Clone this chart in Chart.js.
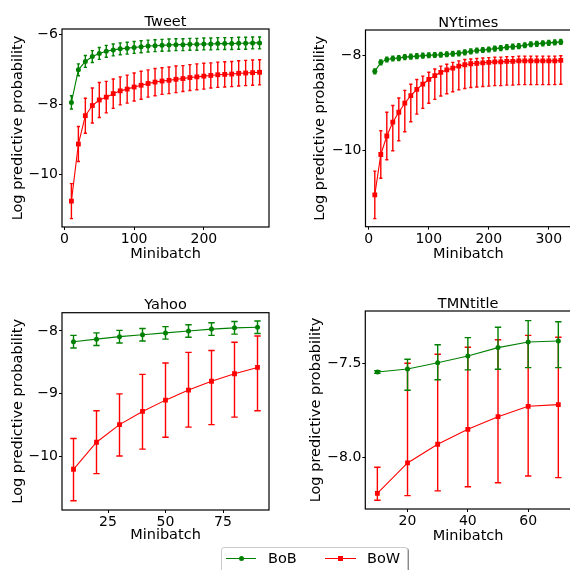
<!DOCTYPE html>
<html>
<head>
<meta charset="utf-8">
<script src="https://cdn.jsdelivr.net/npm/chart.js@4.4.1/dist/chart.umd.min.js"></script>
<style>
  html, body { margin: 0; padding: 0; background: #fff; overflow: hidden; }
  #page { position: relative; width: 570px; height: 570px; overflow: hidden; font-family: 'DejaVu Sans', sans-serif; }
  .panel { position: absolute; }
  .legend { position: absolute; left: 221px; top: 547px; width: 185px; height: 32px; border: 1px solid #cccccc;
            border-radius: 3px; box-shadow: 1px 1px 0 #8a8a8a; background: #fff; }
  .legend .ln { position: absolute; top: 10px; height: 1px; }
  .legend .mk { position: absolute; }
  .legend .tx { position: absolute; top: 2px; font-size: 14.5px; line-height: 17px; color: #000; }
</style>
</head>
<body>
<div id="page">
  <div class="panel" style="left:0;top:0"><canvas id="tweetChart" width="285" height="270"></canvas></div>
  <div class="panel" style="left:285px;top:0"><canvas id="nyChart" width="290" height="270"></canvas></div>
  <div class="panel" style="left:0;top:285px"><canvas id="yahooChart" width="285" height="270"></canvas></div>
  <div class="panel" style="left:285px;top:285px"><canvas id="tmnChart" width="290" height="270"></canvas></div>
  <div class="legend">
    <span class="ln" style="left:4px;width:30px;background:#008000"></span>
    <span class="mk" style="left:17px;top:8px;width:5px;height:5px;border-radius:50%;background:#008000"></span>
    <span class="tx" style="left:46px">BoB</span>
    <span class="ln" style="left:103px;width:31px;background:#ff0000"></span>
    <span class="mk" style="left:116px;top:8px;width:5px;height:5px;background:#ff0000"></span>
    <span class="tx" style="left:145px">BoW</span>
  </div>
</div>
<script>
// ---- Tweet ----
const tweetX = [10, 20, 30, 40, 50, 60, 70, 80, 90, 100, 110, 120, 130, 140, 150, 160, 170, 180, 190, 200,
    210, 220, 230, 240, 250, 260, 270, 280];
const tweetBob = [-7.94, -7.01, -6.77, -6.63, -6.54, -6.48, -6.44, -6.41, -6.39, -6.37, -6.35, -6.33, -6.32, -6.31,
    -6.30, -6.29, -6.29, -6.28, -6.28, -6.27, -6.27, -6.26, -6.26, -6.26, -6.25, -6.25, -6.24, -6.24];
const tweetBobErr = [0.19, 0.17, 0.17, 0.17, 0.17, 0.17, 0.17, 0.17, 0.17, 0.17, 0.17, 0.17, 0.17, 0.17,
    0.17, 0.17, 0.17, 0.17, 0.17, 0.17, 0.17, 0.17, 0.17, 0.17, 0.17, 0.17, 0.17, 0.17];
const tweetBow = [-10.76, -9.13, -8.32, -8.03, -7.87, -7.79, -7.69, -7.61, -7.56, -7.50, -7.45, -7.40, -7.36, -7.33,
    -7.31, -7.28, -7.26, -7.23, -7.21, -7.19, -7.17, -7.15, -7.14, -7.13, -7.11, -7.10, -7.09, -7.08];
const tweetBowErr = [0.5, 0.5, 0.5, 0.5, 0.5, 0.45, 0.42, 0.4, 0.4, 0.4, 0.4, 0.39, 0.39, 0.38,
    0.38, 0.38, 0.37, 0.37, 0.37, 0.37, 0.36, 0.36, 0.36, 0.36, 0.36, 0.36, 0.36, 0.36];
const tweetXTicks = [0, 100, 200];
const tweetYTicks = [-10, -8, -6];

// ---- NYtimes ----
const nyX = [10, 20, 30, 40, 50, 60, 70, 80, 90, 100, 110, 120, 130, 140, 150, 160, 170, 180, 190, 200,
    210, 220, 230, 240, 250, 260, 270, 280, 290, 300, 310, 320];
const nyBob = [-8.33, -8.14, -8.08, -8.06, -8.05, -8.03, -8.02, -8.01, -8.00, -7.99, -7.985, -7.98, -7.97, -7.96,
    -7.95, -7.93, -7.91, -7.89, -7.88, -7.87, -7.85, -7.84, -7.82, -7.81, -7.80, -7.78, -7.76, -7.75,
    -7.74, -7.73, -7.72, -7.71];
const nyBobErr = [0.05, 0.05, 0.05, 0.05, 0.05, 0.05, 0.05, 0.05, 0.05, 0.05, 0.05, 0.05, 0.05, 0.05, 0.05, 0.05,
    0.05, 0.05, 0.05, 0.05, 0.05, 0.05, 0.05, 0.05, 0.05, 0.05, 0.05, 0.05, 0.05, 0.05, 0.05, 0.05];
const nyBow = [-10.93, -10.08, -9.69, -9.40, -9.19, -9.00, -8.84, -8.71, -8.60, -8.50, -8.42, -8.35, -8.30, -8.26,
    -8.22, -8.19, -8.17, -8.16, -8.15, -8.14, -8.13, -8.13, -8.12, -8.12, -8.11, -8.11, -8.11, -8.11,
    -8.11, -8.11, -8.11, -8.10];
const nyBowUp = [0.5, 0.5, 0.5, 0.35, 0.3, 0.27, 0.24, 0.21, 0.17, 0.15, 0.14, 0.13, 0.12, 0.12, 0.11, 0.11,
    0.1, 0.1, 0.1, 0.1, 0.1, 0.1, 0.1, 0.1, 0.1, 0.1, 0.1, 0.1, 0.1, 0.1, 0.1, 0.1];
const nyBowDown = [0.5, 0.5, 0.5, 0.6, 0.6, 0.6, 0.55, 0.52, 0.51, 0.5, 0.5, 0.5, 0.5, 0.5, 0.5, 0.5,
    0.5, 0.5, 0.5, 0.5, 0.5, 0.5, 0.5, 0.5, 0.5, 0.5, 0.5, 0.5, 0.5, 0.5, 0.5, 0.5];
const nyXTicks = [0, 100, 200, 300];
const nyYTicks = [-10, -8];

// ---- Yahoo ----
const yahooX = [10, 20, 30, 40, 50, 60, 70, 80, 90];
const yahooBob = [-8.17, -8.13, -8.09, -8.06, -8.03, -8.00, -7.97, -7.95, -7.94];
const yahooBobErr = [0.1, 0.1, 0.1, 0.1, 0.1, 0.1, 0.1, 0.1, 0.1];
const yahooBow = [-10.20, -9.77, -9.49, -9.28, -9.10, -8.94, -8.80, -8.68, -8.58];
const yahooBowUp = [0.49, 0.5, 0.49, 0.59, 0.59, 0.6, 0.49, 0.5, 0.5];
const yahooBowDown = [0.5, 0.5, 0.5, 0.6, 0.59, 0.59, 0.69, 0.69, 0.69];
const yahooXTicks = [25, 50, 75];
const yahooYTicks = [-10, -9, -8];

// ---- TMNtitle ----
const tmnX = [10, 20, 30, 40, 50, 60, 70];
const tmnBob = [-7.546, -7.530, -7.497, -7.461, -7.417, -7.387, -7.382];
const tmnBobUp = [0.007, 0.051, 0.095, 0.097, 0.108, 0.113, 0.102];
const tmnBobDown = [0.007, 0.113, 0.09, 0.074, 0.115, 0.136, 0.141];
const tmnBow = [-8.189, -8.028, -7.929, -7.85, -7.783, -7.728, -7.719];
const tmnBowUp = [0.138, 0.528, 0.477, 0.435, 0.408, 0.376, 0.357];
const tmnBowDown = [0.037, 0.173, 0.247, 0.304, 0.35, 0.369, 0.387];
const tmnXTicks = [20, 40, 60];
const tmnYTicks = [-8.0, -7.5];

const GREEN = '#008000';
const RED = '#ff0000';
const FONT = "'DejaVu Sans', sans-serif";

Chart.defaults.font.family = FONT;
Chart.defaults.color = '#000';

// matplotlib style minus sign
function fmt(decimals) {
    return v => (v < 0 ? '\u2212' : '') + Math.abs(v).toFixed(decimals);
}

// vertical error bars with caps, drawn just before each line
const errorBars = {
    id: 'errorBars',
    beforeDatasetDraw(chart, args, opts) {
        const ds = chart.data.datasets[args.index];
        if (!ds.errUp) return;
        const { ctx, scales: { x, y } } = chart;
        const cap = opts.cap || 3;
        ctx.save();
        ctx.strokeStyle = ds.borderColor;
        ctx.lineWidth = 1.4;
        ds.data.forEach((p, i) => {
            const px = x.getPixelForValue(p.x);
            const hi = y.getPixelForValue(p.y + ds.errUp[i]);
            const lo = y.getPixelForValue(p.y - ds.errDown[i]);
            ctx.beginPath();
            ctx.moveTo(px, hi);
            ctx.lineTo(px, lo);
            ctx.moveTo(px - cap, hi);
            ctx.lineTo(px + cap, hi);
            ctx.moveTo(px - cap, lo);
            ctx.lineTo(px + cap, lo);
            ctx.stroke();
        });
        ctx.restore();
    }
};

// box around the axes (all four spines)
const frame = {
    id: 'frame',
    afterDatasetsDraw(chart) {
        const { ctx, chartArea: a } = chart;
        ctx.save();
        ctx.strokeStyle = '#000';
        ctx.lineWidth = 1.2;
        ctx.strokeRect(a.left, a.top, a.right - a.left, a.bottom - a.top);
        ctx.restore();
    }
};

function makePanel(id, c) {
    const pts = (xs, ys) => xs.map((v, i) => ({ x: v, y: ys[i] }));
    return new Chart(document.getElementById(id), {
        type: 'line',
        data: {
            datasets: [{
                label: 'BoB',
                data: pts(c.x, c.bob),
                errUp: c.bobUp,
                errDown: c.bobDown,
                borderColor: GREEN,
                backgroundColor: GREEN,
                borderWidth: 1.1,
                tension: 0,
                pointStyle: 'circle',
                pointRadius: 2.5,
                pointBorderWidth: 0,
                pointBackgroundColor: GREEN
            }, {
                label: 'BoW',
                data: pts(c.x, c.bow),
                errUp: c.bowUp,
                errDown: c.bowDown,
                borderColor: RED,
                backgroundColor: RED,
                borderWidth: 1.1,
                tension: 0,
                pointStyle: 'rect',
                pointRadius: 3.4,
                pointBorderWidth: 0,
                pointBackgroundColor: RED
            }]
        },
        options: {
            responsive: false,
            animation: false,
            events: [],
            layout: {
                autoPadding: false,
                padding: { top: c.padTop, right: c.padRight, bottom: 0, left: 0 }
            },
            plugins: {
                legend: { display: false },
                tooltip: { enabled: false },
                errorBars: { cap: c.cap },
                title: {
                    display: true,
                    text: c.title,
                    fullSize: false,
                    color: '#000',
                    font: { size: 14.5, weight: 'normal', lineHeight: 1 },
                    padding: 0
                }
            },
            scales: {
                x: {
                    type: 'linear',
                    min: c.xMin,
                    max: c.xMax,
                    afterBuildTicks: s => { s.ticks = c.xTicks.map(v => ({ value: v })); },
                    afterFit: s => { s.height = c.xAxisH; },
                    border: { display: false },
                    grid: { drawOnChartArea: false, drawTicks: true, tickLength: 3, color: '#000' },
                    ticks: { font: { size: 14 }, padding: 1, maxRotation: 0, autoSkip: false, callback: fmt(0) },
                    title: {
                        display: true,
                        text: 'Minibatch',
                        font: { size: 14.5 },
                        padding: { top: 0, bottom: c.xTitlePad }
                    }
                },
                y: {
                    type: 'linear',
                    min: c.yMin,
                    max: c.yMax,
                    afterBuildTicks: s => { s.ticks = c.yTicks.map(v => ({ value: v })); },
                    afterFit: s => { s.width = c.yAxisW; },
                    border: { display: false },
                    grid: { drawOnChartArea: false, drawTicks: true, tickLength: 3, color: '#000' },
                    ticks: { font: { size: 14 }, padding: 1, autoSkip: false, callback: fmt(c.yDecimals) },
                    title: {
                        display: true,
                        text: 'Log predictive probability',
                        font: { size: 14.5 },
                        padding: { top: c.yTitlePad, bottom: 0 }
                    }
                }
            }
        },
        plugins: [errorBars, frame]
    });
}

makePanel('tweetChart', {
    title: 'Tweet', x: tweetX,
    bob: tweetBob, bobUp: tweetBobErr, bobDown: tweetBobErr,
    bow: tweetBow, bowUp: tweetBowErr, bowDown: tweetBowErr,
    xTicks: tweetXTicks, yTicks: tweetYTicks, yDecimals: 0,
    xMin: -3.5, xMax: 293.5, yMin: -11.5, yMax: -5.843,
    padTop: 14.5, padRight: 16, yAxisW: 62, xAxisH: 43, yTitlePad: 9.6, xTitlePad: 6.8, cap: 1.6
});

makePanel('nyChart', {
    title: 'NYtimes', x: nyX,
    bob: nyBob, bobUp: nyBobErr, bobDown: nyBobErr,
    bow: nyBow, bowUp: nyBowUp, bowDown: nyBowDown,
    xTicks: nyXTicks, yTicks: nyYTicks, yDecimals: 0,
    xMin: -5.5, xMax: 337, yMin: -11.6, yMax: -7.459,
    padTop: 15.5, padRight: 4, yAxisW: 80.5, xAxisH: 43.3, yTitlePad: 26.8, xTitlePad: 7.3, cap: 1.6
});

makePanel('yahooChart', {
    title: 'Yahoo', x: yahooX,
    bob: yahooBob, bobUp: yahooBobErr, bobDown: yahooBobErr,
    bow: yahooBow, bowUp: yahooBowUp, bowDown: yahooBowDown,
    xTicks: yahooXTicks, yTicks: yahooYTicks, yDecimals: 0,
    xMin: 5, xMax: 95, yMin: -10.848, yMax: -7.709,
    padTop: 13.2, padRight: 16, yAxisW: 62, xAxisH: 45, yTitlePad: 9.6, xTitlePad: 10.6, cap: 3.2
});

makePanel('tmnChart', {
    title: 'TMNtitle', x: tmnX,
    bob: tmnBob, bobUp: tmnBobUp, bobDown: tmnBobDown,
    bow: tmnBow, bowUp: tmnBowUp, bowDown: tmnBowDown,
    xTicks: tmnXTicks, yTicks: tmnYTicks, yDecimals: 1,
    xMin: 6, xMax: 74.2, yMin: -8.272, yMax: -7.223,
    padTop: 11.5, padRight: 4, yAxisW: 80.3, xAxisH: 46, yTitlePad: 22.1, xTitlePad: 10.5, cap: 3.2
});
</script>
</body>
</html>
